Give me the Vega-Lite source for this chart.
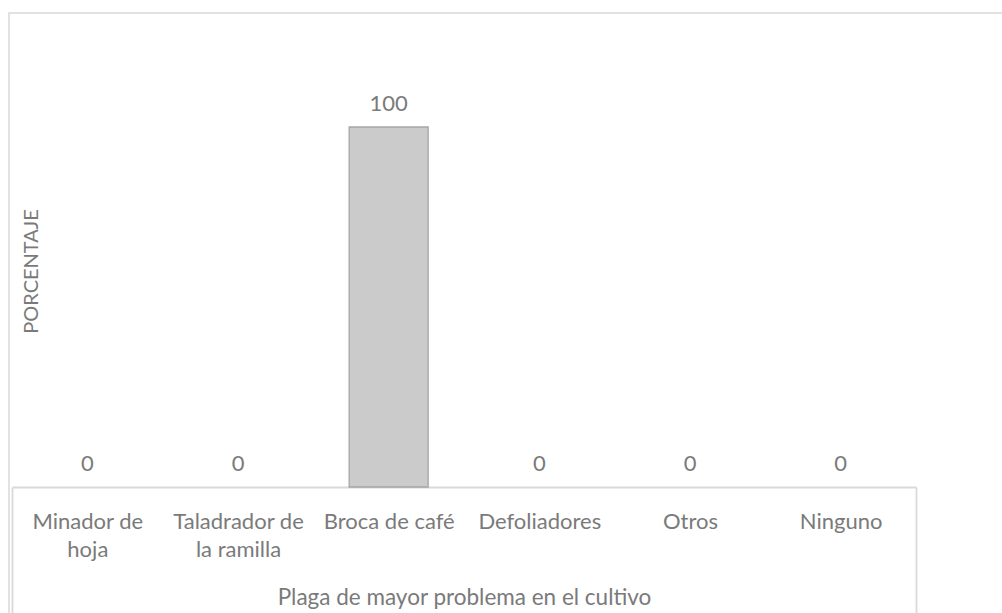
{
  "$schema": "https://vega.github.io/schema/vega-lite/v6.json",
  "width": 998,
  "height": 605,
  "autosize": {"type": "none"},
  "padding": {"left": 9, "top": 13, "right": -5, "bottom": -5},
  "background": "white",
  "config": {
    "view": {"stroke": "#d9d9d9", "strokeWidth": 1.5},
    "font": "Lato"
  },
  "data": {
    "values": [
      {"plaga": "Minador de hoja", "porcentaje": 0},
      {"plaga": "Taladrador de la ramilla", "porcentaje": 0},
      {"plaga": "Broca de café", "porcentaje": 100},
      {"plaga": "Defoliadores", "porcentaje": 0},
      {"plaga": "Otros", "porcentaje": 0},
      {"plaga": "Ninguno", "porcentaje": 0}
    ]
  },
  "encoding": {
    "x": {
      "field": "plaga",
      "type": "nominal",
      "sort": null,
      "scale": {
        "domain": ["Minador de hoja", "Taladrador de la ramilla", "Broca de café", "Defoliadores", "Otros", "Ninguno"],
        "range": [3, 907],
        "paddingInner": 0,
        "paddingOuter": 0
      },
      "axis": {
        "orient": "bottom",
        "offset": -131,
        "title": "Plaga de mayor problema en el cultivo",
        "grid": false,
        "domainColor": "#d9d9d9",
        "domainWidth": 1.8,
        "tickBand": "extent",
        "tickSize": 140,
        "tickColor": "#d9d9d9",
        "tickWidth": 1.8,
        "tickOpacity": {"condition": {"test": "datum.extra || datum.index === 1", "value": 1}, "value": 0},
        "labelPadding": -99,
        "labelBaseline": "alphabetic",
        "labelAngle": 0,
        "labelFontSize": 22,
        "labelColor": "#7a7a7a",
        "labelLineHeight": 28,
        "labelOverlap": false,
        "labelLimit": 0,
        "labelExpr": "datum.label == 'Minador de hoja' ? ['Minador de', 'hoja'] : datum.label == 'Taladrador de la ramilla' ? ['Taladrador de', 'la ramilla'] : datum.label",
        "titleY": 117,
        "titleBaseline": "alphabetic",
        "titleFontSize": 22.5,
        "titleFontWeight": "normal",
        "titleColor": "#7a7a7a"
      }
    }
  },
  "layer": [
    {
      "transform": [{"filter": "datum.porcentaje > 0"}],
      "mark": {"type": "bar", "width": {"band": 0.524}, "fill": "#cbcbcb", "stroke": "#a5a5a5", "strokeWidth": 1.3},
      "encoding": {
        "y": {
          "field": "porcentaje",
          "type": "quantitative",
          "scale": {"domain": [0, 120], "range": [474, 42]},
          "axis": {
            "title": "PORCENTAJE",
            "domain": false,
            "ticks": false,
            "labels": false,
            "grid": false,
            "titleX": 28,
            "titleAngle": 270,
            "titleBaseline": "alphabetic",
            "titleAlign": "center",
            "titleFontSize": 20,
            "titleFontWeight": "normal",
            "titleColor": "#7a7a7a"
          }
        }
      }
    },
    {
      "mark": {"type": "text", "dy": -16, "baseline": "alphabetic", "fontSize": 22, "color": "#7a7a7a"},
      "encoding": {
        "y": {"field": "porcentaje", "type": "quantitative"},
        "text": {"field": "porcentaje", "type": "quantitative"}
      }
    }
  ]
}
